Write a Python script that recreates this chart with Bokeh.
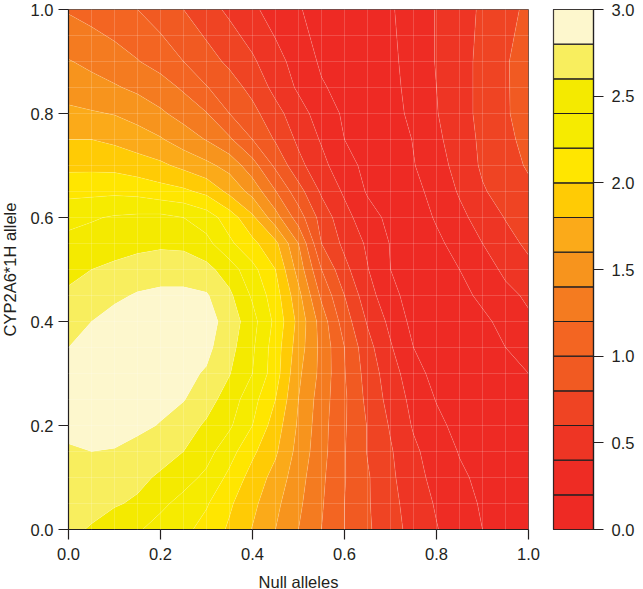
from bokeh.plotting import figure
from bokeh.layouts import row
from bokeh.models import Range1d, FixedTicker, NumeralTickFormatter
from bokeh.embed import file_html
from bokeh.resources import INLINE

levels = [0.0, 0.2, 0.4, 0.6, 0.8, 1.0, 1.2, 1.4, 1.6, 1.8, 2.0, 2.2, 2.4, 2.6, 2.8, 3.0]
palette = ["#EE2A24", "#EE2C24", "#EE3524", "#EF4423", "#F15A22", "#F36522", "#F47B20", "#F7941D",
           "#FBAA19", "#FFCB05", "#FFE600", "#F6EB00", "#F4EA00", "#F8EE5E", "#FDF7CD"]
x_vals = [0.0, 0.05, 0.1, 0.15, 0.2, 0.25, 0.3, 0.35, 0.4, 0.45, 0.5, 0.55, 0.6, 0.65, 0.7, 0.75, 0.8, 0.85, 0.9, 0.95, 1.0]
y_vals = [0.0, 0.05, 0.1, 0.15, 0.2, 0.25, 0.3, 0.35, 0.4, 0.45, 0.5, 0.55, 0.6, 0.65, 0.7, 0.75, 0.8, 0.85, 0.9, 1.0]
z00 = [2.65, 2.58, 2.49, 2.42, 2.33, 2.25, 2.13, 1.97, 1.79, 1.60, 1.40, 1.20, 1.00, 0.83, 0.67, 0.54, 0.41, 0.30, 0.20, 0.14, 0.10]
z05 = [2.70, 2.67, 2.62, 2.57, 2.44, 2.34, 2.22, 2.03, 1.85, 1.65, 1.44, 1.22, 1.00, 0.82, 0.66, 0.51, 0.38, 0.27, 0.18, 0.13, 0.10]
z10 = [2.74, 2.74, 2.70, 2.65, 2.57, 2.47, 2.36, 2.15, 1.92, 1.73, 1.48, 1.24, 1.01, 0.82, 0.64, 0.47, 0.34, 0.23, 0.16, 0.12, 0.09]
z15 = [2.77, 2.80, 2.79, 2.74, 2.68, 2.60, 2.47, 2.28, 2.04, 1.83, 1.53, 1.27, 1.01, 0.79, 0.62, 0.44, 0.30, 0.19, 0.13, 0.11, 0.11]
z20 = [2.87, 2.89, 2.87, 2.84, 2.79, 2.69, 2.57, 2.43, 2.20, 1.90, 1.57, 1.28, 1.02, 0.79, 0.58, 0.38, 0.25, 0.14, 0.10, 0.11, 0.13]
z25 = [2.88, 2.90, 2.90, 2.88, 2.85, 2.81, 2.68, 2.51, 2.27, 2.00, 1.60, 1.30, 1.03, 0.75, 0.53, 0.34, 0.19, 0.10, 0.08, 0.11, 0.16]
z30 = [2.86, 2.89, 2.90, 2.90, 2.88, 2.85, 2.78, 2.61, 2.40, 2.09, 1.64, 1.34, 1.01, 0.72, 0.49, 0.28, 0.13, 0.07, 0.06, 0.11, 0.20]
z35 = [2.80, 2.86, 2.90, 2.92, 2.93, 2.91, 2.85, 2.67, 2.43, 2.10, 1.70, 1.34, 1.00, 0.67, 0.42, 0.20, 0.09, 0.06, 0.10, 0.20, 0.28]
z40 = [2.72, 2.80, 2.88, 2.93, 2.95, 2.93, 2.88, 2.72, 2.47, 2.15, 1.74, 1.31, 0.90, 0.58, 0.35, 0.14, 0.07, 0.06, 0.15, 0.27, 0.37]
z45 = [2.63, 2.68, 2.76, 2.82, 2.85, 2.85, 2.82, 2.64, 2.37, 2.09, 1.66, 1.16, 0.80, 0.48, 0.27, 0.10, 0.05, 0.13, 0.25, 0.35, 0.43]
z50 = [2.55, 2.60, 2.64, 2.68, 2.70, 2.70, 2.66, 2.50, 2.26, 2.00, 1.52, 1.00, 0.66, 0.41, 0.20, 0.10, 0.11, 0.20, 0.31, 0.44, 0.55]
z55 = [2.45, 2.49, 2.52, 2.55, 2.57, 2.56, 2.46, 2.24, 2.05, 1.85, 1.40, 0.80, 0.55, 0.37, 0.19, 0.09, 0.16, 0.27, 0.40, 0.53, 0.64]
z60 = [2.35, 2.38, 2.42, 2.44, 2.45, 2.40, 2.30, 2.10, 1.84, 1.48, 1.10, 0.72, 0.47, 0.28, 0.15, 0.10, 0.22, 0.35, 0.48, 0.61, 0.71]
z65 = [2.14, 2.15, 2.16, 2.14, 2.08, 2.04, 1.95, 1.75, 1.53, 1.21, 0.88, 0.57, 0.37, 0.18, 0.11, 0.14, 0.27, 0.42, 0.58, 0.68, 0.76]
z70 = [1.95, 1.95, 1.94, 1.89, 1.84, 1.75, 1.65, 1.53, 1.28, 0.96, 0.66, 0.46, 0.27, 0.15, 0.09, 0.19, 0.32, 0.47, 0.63, 0.73, 0.82]
z75 = [1.80, 1.80, 1.76, 1.70, 1.62, 1.50, 1.39, 1.23, 1.00, 0.78, 0.56, 0.38, 0.20, 0.12, 0.08, 0.21, 0.36, 0.50, 0.64, 0.76, 0.85]
z80 = [1.65, 1.62, 1.59, 1.52, 1.43, 1.33, 1.21, 1.00, 0.86, 0.67, 0.48, 0.31, 0.17, 0.10, 0.11, 0.26, 0.39, 0.53, 0.65, 0.78, 0.88]
z85 = [1.50, 1.46, 1.42, 1.36, 1.29, 1.17, 1.01, 0.89, 0.74, 0.54, 0.37, 0.22, 0.14, 0.09, 0.14, 0.27, 0.40, 0.53, 0.65, 0.78, 0.89]
z90 = [1.41, 1.36, 1.29, 1.21, 1.12, 1.00, 0.88, 0.76, 0.63, 0.47, 0.32, 0.17, 0.12, 0.09, 0.15, 0.29, 0.41, 0.53, 0.65, 0.78, 0.90]
z100 = [1.18, 1.12, 1.06, 1.00, 0.90, 0.80, 0.68, 0.56, 0.44, 0.31, 0.21, 0.15, 0.12, 0.12, 0.18, 0.29, 0.41, 0.52, 0.63, 0.74, 0.84]
z_rows = [z00, z05, z10, z15, z20, z25, z30, z35, z40, z45, z50, z55, z60, z65, z70, z75, z80, z85, z90, z100]
main_ticks = [0.0, 0.2, 0.4, 0.6, 0.8, 1.0]
grid_ticks = x_vals
bar_ticks = [0.0, 0.5, 1.0, 1.5, 2.0, 2.5, 3.0]
x_title = "Null alleles"
y_title = "CYP2A6*1H allele"

FONT = "Liberation Sans"
SIZE = "16.5px"
INK = "#231f20"


def style_axis(ax):
    ax.major_tick_out = 10
    ax.major_tick_in = 0
    ax.minor_tick_out = 0
    ax.minor_tick_in = 0
    ax.axis_line_color = INK
    ax.axis_line_width = 1.2
    ax.major_tick_line_color = INK
    ax.major_tick_line_width = 1.2
    ax.major_label_text_font = FONT
    ax.major_label_text_font_size = SIZE
    ax.major_label_text_color = INK
    ax.axis_label_text_font = FONT
    ax.axis_label_text_font_size = SIZE
    ax.axis_label_text_font_style = "normal"
    ax.axis_label_text_color = INK
    ax.formatter = NumeralTickFormatter(format="0.0")


p = figure(frame_width=460, frame_height=520, x_range=Range1d(0, 1), y_range=Range1d(0, 1),
           output_backend="svg", toolbar_location=None, width=548, height=587,
           min_border_left=69, min_border_right=19, min_border_top=10, min_border_bottom=57,
           x_axis_label=x_title, y_axis_label=y_title)
p.contour(x_vals, y_vals, z_rows, levels, fill_color=palette, line_color="#ffffff", line_alpha=0.22, line_width=0.7)
for ax in (p.xaxis[0], p.yaxis[0]):
    style_axis(ax)
    ax.ticker = FixedTicker(ticks=main_ticks)
p.xaxis[0].major_label_standoff = 8
p.xaxis[0].axis_label_standoff = 10
p.yaxis[0].major_label_standoff = 5
p.yaxis[0].axis_label_standoff = 9
for g in (p.xgrid[0], p.ygrid[0]):
    g.ticker = FixedTicker(ticks=grid_ticks)
    g.grid_line_color = "#ffffff"
    g.grid_line_alpha = 0.17
    g.grid_line_width = 1
    g.level = "overlay"
p.outline_line_color = "#555555"
p.outline_line_width = 1
p.background_fill_color = "#ffffff"

bar = figure(frame_width=40, frame_height=520, x_range=Range1d(0, 1), y_range=Range1d(0, 3),
             output_backend="svg", toolbar_location=None, width=90, height=587,
             min_border_left=6, min_border_right=44, min_border_top=10, min_border_bottom=57,
             x_axis_location=None, y_axis_location="right")
bar.quad(left=0, right=1, bottom=levels[:-1], top=levels[1:], fill_color=palette,
         line_color=INK, line_width=1.2)
bar.grid.visible = False
style_axis(bar.yaxis[0])
bar.yaxis[0].ticker = FixedTicker(ticks=bar_ticks)
bar.yaxis[0].major_label_standoff = 8
bar.outline_line_color = INK
bar.outline_line_width = 1.2

layout = row(p, bar, spacing=0, styles={"margin-left": "-3px", "margin-top": "-1px"})
open("out.html", "w").write(file_html(layout, INLINE))
